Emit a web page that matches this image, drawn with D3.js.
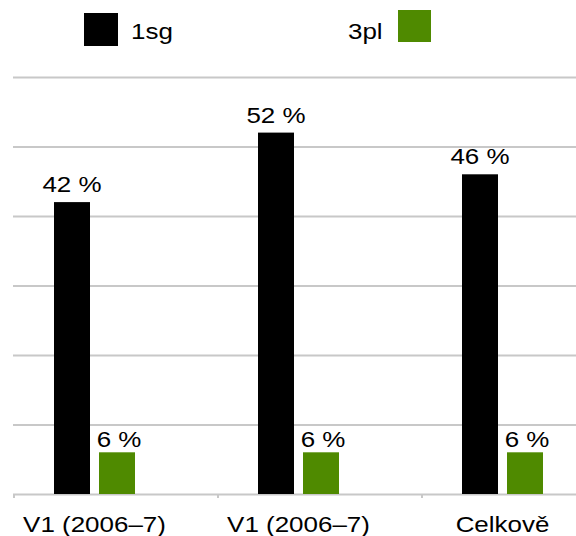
<!DOCTYPE html>
<html>
<head>
<meta charset="utf-8">
<script src="https://cdn.jsdelivr.net/npm/d3@7"></script>
<style>
  html, body { margin: 0; padding: 0; background: #fff; }
  svg { display: block; }
  text { font-family: "Liberation Sans", Arial, sans-serif; fill: #000; }
</style>
</head>
<body>
<script>
// Categories, series and values
const categories = ["V1 (2006–7)", "V1 (2006–7)", "Celkově"];
const seriesNames = ["1sg", "3pl"];
const values1sg = [42, 52, 46];
const values3pl = [6, 6, 6];
const yTicks = [0, 10, 20, 30, 40, 50, 60];

const W = 576, H = 536;
const colors = { "1sg": "#000000", "3pl": "#4f8a00" };
const gridColor = "#c8c8c8";
const stretch = 1.18; // horizontal text scale

const svg = d3.select("body").append("svg")
  .attr("width", W).attr("height", H);

const y = d3.scaleLinear().domain([0, 60]).range([494, 77]);
const x = d3.scaleBand().domain(d3.range(categories.length)).range([14, 626]).padding(0);
const xs = d3.scaleBand().domain(seriesNames).range([40, 121]).paddingInner(0.2).paddingOuter(0);

// horizontal grid lines (incl. baseline)
const grid = svg.append("g").attr("transform", "translate(13,0)")
  .call(d3.axisLeft(y).tickValues(yTicks).tickSize(-(W - 13)).tickFormat(""));
grid.select(".domain").remove();
grid.selectAll(".tick line").attr("stroke", gridColor).attr("stroke-width", 2);

// small category ticks below the baseline
svg.append("g").selectAll("line")
  .data(d3.range(categories.length))
  .join("line")
  .attr("x1", i => x(i)).attr("x2", i => x(i))
  .attr("y1", y(0)).attr("y2", y(0) + 4)
  .attr("stroke", gridColor).attr("stroke-width", 2);

const rows = categories.map((c, i) => ({
  i, cat: c,
  vals: [{ s: "1sg", v: values1sg[i] }, { s: "3pl", v: values3pl[i] }]
}));

const groups = svg.append("g").selectAll("g")
  .data(rows).join("g")
  .attr("transform", d => `translate(${x(d.i)},0)`);

groups.selectAll("rect")
  .data(d => d.vals).join("rect")
  .attr("x", d => xs(d.s))
  .attr("width", xs.bandwidth())
  .attr("y", d => y(d.v))
  .attr("height", d => y(0) - y(d.v))
  .attr("fill", d => colors[d.s]);

// value labels
groups.selectAll("text.val")
  .data(d => d.vals).join("text")
  .attr("class", "val")
  .attr("transform", d => {
    const cx = xs(d.s) + xs.bandwidth() / 2 + (d.s === "3pl" ? 2 : 0);
    const cy = y(d.v) - (d.s === "1sg" ? 10 : 5);
    return `translate(${cx},${cy}) scale(${stretch},1)`;
  })
  .attr("text-anchor", "middle")
  .style("font-size", "22px")
  .text(d => `${d.v} %`);

// category labels
groups.append("text")
  .attr("transform", () => `translate(${(xs("1sg") + xs("3pl") + xs.bandwidth()) / 2},532) scale(${stretch},1)`)
  .attr("text-anchor", "middle")
  .style("font-size", "22px")
  .text(d => d.cat);

// legend
const legend = svg.append("g");
legend.append("rect").attr("x", 84).attr("y", 13).attr("width", 34).attr("height", 33)
  .attr("fill", colors["1sg"]);
legend.append("text")
  .attr("transform", `translate(131,39) scale(${stretch},1)`)
  .style("font-size", "22px").text(seriesNames[0]);
legend.append("text")
  .attr("transform", `translate(348,39) scale(${stretch},1)`)
  .style("font-size", "22px").text(seriesNames[1]);
legend.append("rect").attr("x", 398).attr("y", 10).attr("width", 33).attr("height", 32)
  .attr("fill", colors["3pl"]);
</script>
</body>
</html>
